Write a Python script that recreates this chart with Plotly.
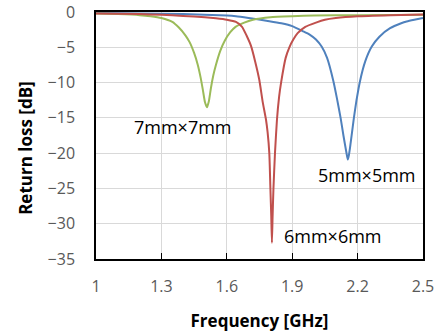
import plotly.graph_objects as go

# 7mm x 7mm (green)
f7 = [1.0, 1.1, 1.2, 1.25, 1.3, 1.35, 1.38, 1.41, 1.43, 1.45, 1.467, 1.48, 1.49, 1.5,
      1.509, 1.518, 1.527, 1.538, 1.55, 1.57, 1.59, 1.615, 1.64, 1.68, 1.72, 1.8, 1.9,
      2.0, 2.2, 2.5]
s7 = [-0.2, -0.3, -0.45, -0.6, -0.85, -1.4, -2.2, -3.3, -4.3, -5.8, -7.5, -9.3, -11.0,
      -12.8, -13.5, -12.6, -10.8, -9.0, -7.5, -5.5, -4.1, -2.9, -2.1, -1.5, -1.1, -0.75,
      -0.6, -0.5, -0.45, -0.4]

# 6mm x 6mm (red)
f6 = [1.0, 1.2, 1.3, 1.4, 1.5, 1.55, 1.6, 1.642, 1.67, 1.69, 1.711, 1.73, 1.749, 1.765,
      1.78, 1.787, 1.795, 1.8, 1.804, 1.807, 1.81, 1.814, 1.821, 1.83, 1.84, 1.849, 1.87,
      1.887, 1.905, 1.925, 1.96, 2.009, 2.05, 2.1, 2.2, 2.35, 2.5]
s6 = [-0.2, -0.3, -0.4, -0.55, -0.75, -0.9, -1.1, -1.4, -2.1, -3.3, -4.8, -7.0, -9.6,
      -12.8, -15.3, -17.0, -20.0, -25.0, -29.0, -32.7, -29.0, -25.0, -20.0, -15.3, -12.0,
      -10.0, -6.5, -5.0, -3.9, -3.0, -2.1, -1.5, -1.1, -0.85, -0.6, -0.45, -0.35]

# 5mm x 5mm (blue)
f5 = [1.0, 1.2, 1.4, 1.6, 1.642, 1.7, 1.795, 1.85, 1.9, 1.948, 1.98, 2.009, 2.035, 2.06,
      2.089, 2.105, 2.122, 2.135, 2.148, 2.155, 2.16, 2.165, 2.183, 2.195, 2.211, 2.235,
      2.265, 2.3, 2.349, 2.4, 2.425, 2.46, 2.5]
s5 = [-0.15, -0.2, -0.3, -0.5, -0.6, -0.85, -1.3, -1.6, -2.0, -2.7, -3.2, -3.9, -4.9,
      -6.5, -9.8, -12.2, -15.0, -17.5, -19.8, -20.9, -20.3, -19.3, -15.0, -12.5, -9.8,
      -7.0, -4.9, -3.5, -2.3, -1.6, -1.35, -1.1, -0.85]

x_ticks = [1, 1.3, 1.6, 1.9, 2.2, 2.5]
x_tick_text = ["1", "1.3", "1.6", "1.9", "2.2", "2.5"]
y_ticks = [0, -5, -10, -15, -20, -25, -30, -35]

labels = ["7mm×7mm", "6mm×6mm", "5mm×5mm"]
label_x = [1.397, 2.085, 2.245]
label_y = [-16.3, -31.8, -23.1]

FONT = "Open Sans"

fig = go.Figure()
fig.add_trace(go.Scatter(x=f5, y=s5, mode="lines",
                         line=dict(color="#4F81BD", width=2, shape="spline", smoothing=0.5)))
fig.add_trace(go.Scatter(x=f7, y=s7, mode="lines",
                         line=dict(color="#9BBB59", width=2, shape="spline", smoothing=0.5)))
fig.add_trace(go.Scatter(x=f6, y=s6, mode="lines",
                         line=dict(color="#C0504D", width=2, shape="spline", smoothing=0.5)))

for t, lx, ly in zip(labels, label_x, label_y):
    fig.add_annotation(x=lx, y=ly, text=t, showarrow=False,
                       font=dict(family=FONT, size=18, color="#000000"))

# y-axis title (placed slightly below the plot centre as in the original)
fig.add_annotation(xref="paper", yref="paper", x=0, y=0.45, xanchor="center",
                   yanchor="middle", xshift=-70,
                   text="<b>Return loss [dB]</b>", textangle=-90, showarrow=False,
                   font=dict(family=FONT, size=17, color="#000000"))

fig.update_layout(
    width=439, height=333,
    margin=dict(l=96, r=16, t=12, b=74, autoexpand=False),
    paper_bgcolor="white", plot_bgcolor="white",
    showlegend=False,
    font=dict(family=FONT, size=16, color="#595959"),
    xaxis=dict(
        range=[1, 2.5], tickvals=x_ticks, ticktext=x_tick_text,
        automargin=False,
        showgrid=True, gridcolor="#D9D9D9", gridwidth=1,
        showline=True, linecolor="black", linewidth=1.5, mirror=True,
        ticks="inside", ticklen=6, tickcolor="black",
        ticklabelstandoff=12,
        tickfont=dict(family=FONT, size=16, color="#595959"),
        title=dict(text="<b>Frequency [GHz]</b>", standoff=19,
                   font=dict(family=FONT, size=17, color="#000000")),
        zeroline=False,
    ),
    yaxis=dict(
        range=[-35, 0], tickvals=y_ticks,
        automargin=False,
        showgrid=True, gridcolor="#D9D9D9", gridwidth=1,
        showline=True, linecolor="black", linewidth=1.5, mirror=True,
        ticks="", ticklabelstandoff=16,
        tickfont=dict(family=FONT, size=16, color="#595959"),
        zeroline=False,
    ),
)

fig.write_html("out.html", config={"displayModeBar": False},
               post_script="document.body.style.margin='0';")
